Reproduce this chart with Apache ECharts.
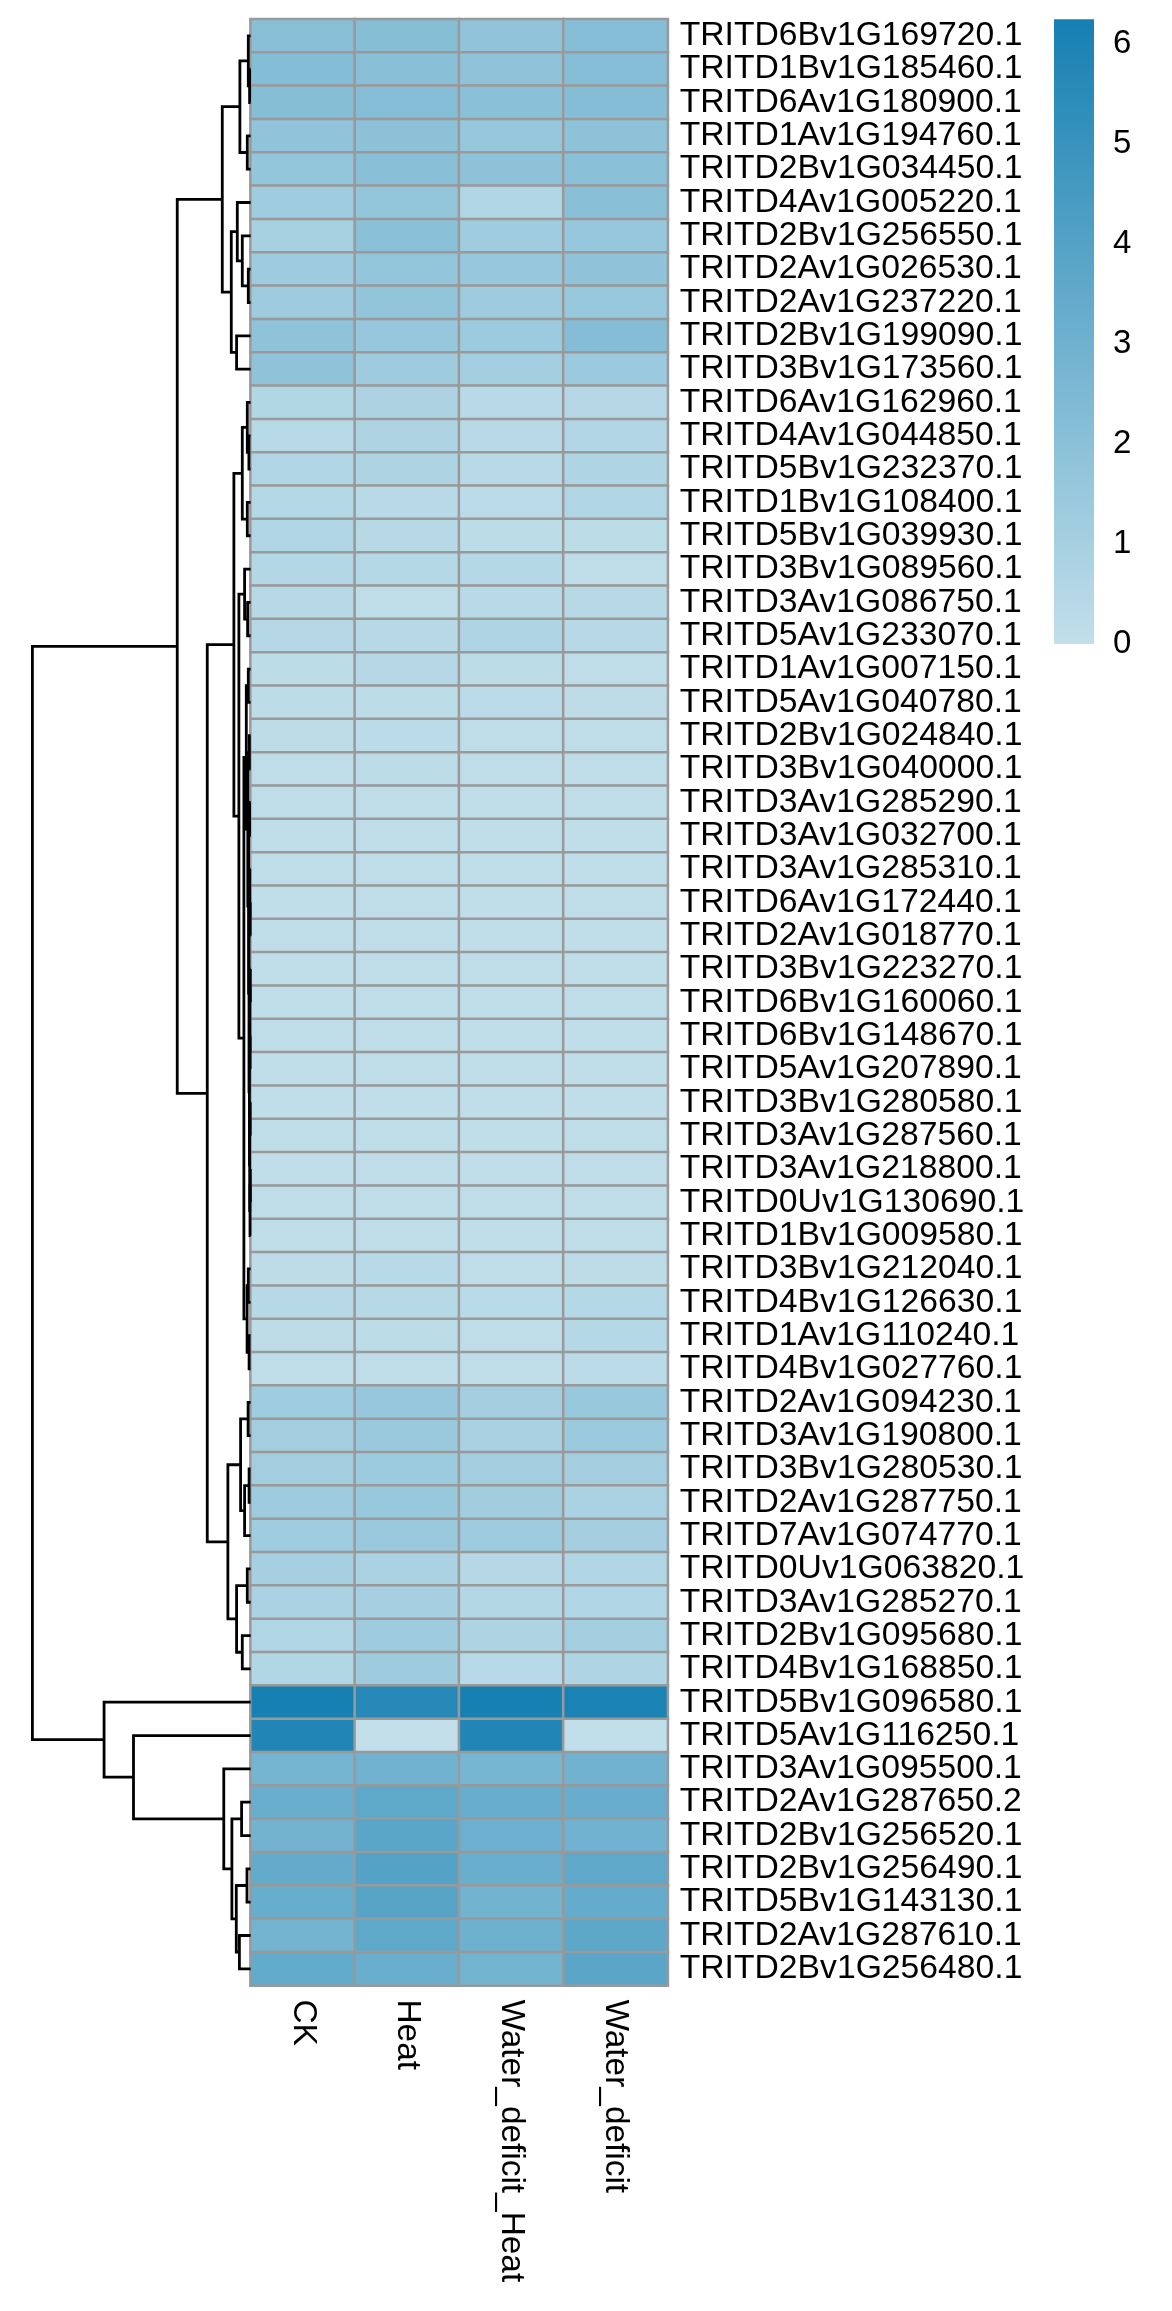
<!DOCTYPE html>
<html><head><meta charset="utf-8">
<script src="https://cdn.jsdelivr.net/npm/echarts@6/dist/echarts.min.js"></script>
<style>html,body{margin:0;padding:0;background:#fff}#c{width:1172px;height:2311px}</style>
</head><body><div id="c"></div>
<script>
// ---- DATA ----
const genes = [
 'TRITD6Bv1G169720.1','TRITD1Bv1G185460.1','TRITD6Av1G180900.1','TRITD1Av1G194760.1','TRITD2Bv1G034450.1',
 'TRITD4Av1G005220.1','TRITD2Bv1G256550.1','TRITD2Av1G026530.1','TRITD2Av1G237220.1','TRITD2Bv1G199090.1',
 'TRITD3Bv1G173560.1','TRITD6Av1G162960.1','TRITD4Av1G044850.1','TRITD5Bv1G232370.1','TRITD1Bv1G108400.1',
 'TRITD5Bv1G039930.1','TRITD3Bv1G089560.1','TRITD3Av1G086750.1','TRITD5Av1G233070.1','TRITD1Av1G007150.1',
 'TRITD5Av1G040780.1','TRITD2Bv1G024840.1','TRITD3Bv1G040000.1','TRITD3Av1G285290.1','TRITD3Av1G032700.1',
 'TRITD3Av1G285310.1','TRITD6Av1G172440.1','TRITD2Av1G018770.1','TRITD3Bv1G223270.1','TRITD6Bv1G160060.1',
 'TRITD6Bv1G148670.1','TRITD5Av1G207890.1','TRITD3Bv1G280580.1','TRITD3Av1G287560.1','TRITD3Av1G218800.1',
 'TRITD0Uv1G130690.1','TRITD1Bv1G009580.1','TRITD3Bv1G212040.1','TRITD4Bv1G126630.1','TRITD1Av1G110240.1',
 'TRITD4Bv1G027760.1','TRITD2Av1G094230.1','TRITD3Av1G190800.1','TRITD3Bv1G280530.1','TRITD2Av1G287750.1',
 'TRITD7Av1G074770.1','TRITD0Uv1G063820.1','TRITD3Av1G285270.1','TRITD2Bv1G095680.1','TRITD4Bv1G168850.1',
 'TRITD5Bv1G096580.1','TRITD5Av1G116250.1','TRITD3Av1G095500.1','TRITD2Av1G287650.2','TRITD2Bv1G256520.1',
 'TRITD2Bv1G256490.1','TRITD5Bv1G143130.1','TRITD2Av1G287610.1','TRITD2Bv1G256480.1'
];
const conditions = ['CK','Heat','Water_deficit_Heat','Water_deficit'];

const ck = [2.10,2.25,2.18,1.78,1.67,1.27,0.98,1.31,1.31,1.85,1.82,0.62,0.36,0.65,0.47,0.65,0.55,0.40,0.44,0.22,
 0.22,0.18,0.15,0.11,0.08,0.10,0.09,0.10,0.09,0.08,0.10,0.09,0.08,0.10,0.09,0.11,0.10,0.18,0.40,0.18,
 0.11,1.24,1.13,1.10,1.31,1.27,1.02,0.87,0.65,0.62,6.25,5.85,2.76,3.20,2.87,3.42,3.30,2.80,3.45];
const heat = [2.18,2.07,2.14,1.96,2.10,1.71,2.03,1.71,1.74,1.56,1.31,0.76,0.73,0.73,0.36,0.40,0.47,0.11,0.40,0.44,
 0.22,0.25,0.22,0.15,0.12,0.12,0.10,0.11,0.12,0.10,0.11,0.10,0.09,0.11,0.10,0.12,0.12,0.36,0.40,0.22,
 0.11,1.56,1.45,1.38,1.53,1.45,0.87,1.02,1.31,1.31,5.67,0.00,2.94,3.63,3.78,4.00,3.89,3.63,3.20];
const wdHeat = [1.78,1.82,2.00,1.56,1.89,0.65,1.24,1.60,1.31,1.38,1.13,0.38,0.36,0.36,0.25,0.22,0.47,0.36,0.69,0.22,
 0.25,0.11,0.11,0.07,0.07,0.08,0.08,0.09,0.10,0.09,0.08,0.09,0.08,0.09,0.08,0.10,0.09,0.15,0.33,0.11,
 0.11,1.05,0.91,1.13,1.20,1.31,0.44,0.55,0.73,0.38,6.22,5.85,2.73,3.30,3.13,3.20,2.90,3.05,2.86];
const wd = [2.14,2.14,2.22,1.93,2.00,2.10,1.60,1.82,1.53,2.22,1.42,0.45,0.58,0.69,0.65,0.22,0.15,0.40,0.40,0.11,
 0.18,0.11,0.15,0.11,0.08,0.09,0.10,0.08,0.09,0.10,0.09,0.08,0.09,0.10,0.11,0.12,0.11,0.18,0.47,0.47,
 0.25,1.53,1.42,1.10,0.87,1.05,0.65,0.65,1.13,0.70,6.07,0.02,2.94,3.27,2.94,3.60,3.38,3.67,3.76];

const legendTicks = [0,1,2,3,4,5,6];
const valueMax = 6.25;

// row dendrogram: [left, right, mergeHeight]; leaves are 1-based row numbers
const clusterA = [[[1,[2,3,0.1],0.23],[4,5,0.33],1.07],
                  [[6,[7,[8,9,0.23],0.83],1.33],[10,11,1.4],1.93], 2.83];
const clusterE = [[22,23,0.12],[[24,25,0.1],[[26,[27,28,0.04],0.08],
                  [[[29,30,0.03],[31,32,0.05],0.07],[[33,34,0.04],[[35,36,0.03],37,0.06],0.09],0.12],0.16],0.2],0.28];
const clusterB1 = [[[12,[13,14,0.17],0.33],[15,16,0.33],0.83],
                   [[17,[18,19,0.3],0.6],[[[20,21,0.23],clusterE,0.43],[[38,39,0.23],[40,41,0.15],0.35],0.67],1.17], 1.67];
const clusterB2 = [[[42,43,0.25],[[44,45,0.15],46,0.6],1.0],[[47,48,0.33],[49,50,0.83],1.4],2.27];
const clusterC = [51,[52,[53,[[54,55,0.9],[[56,57,0.36],[58,59,1.12],1.43],1.87],2.68],11.7],14.64];
const rowTree = [[clusterA,[clusterB1,clusterB2,4.33],7.33], clusterC, 21.8];

// ---- BUILD ----
const colorLow = '#c2dfea', colorHigh = '#1680b2';
const cols = [ck, heat, wdHeat, wd];
const heatData = [];
cols.forEach((arr, ci) => arr.forEach((v, ri) => heatData.push([ci, ri, v])));

const segs = [];
function walk(n) {
  if (typeof n === 'number') return {y: n - 0.5, h: 0};
  const L = walk(n[0]), R = walk(n[1]);
  segs.push([L.h, L.y, n[2], R.y, R.h]);
  return {y: (L.y + R.y) / 2, h: n[2]};
}
walk(rowTree);

const FONT = '"Liberation Sans", Arial, Helvetica, sans-serif';
const gridTop = 19.2, hmH = 1966.3;
const chart = echarts.init(document.getElementById('c'), null, {renderer: 'canvas'});
chart.setOption({
  animation: false,
  backgroundColor: '#fff',
  textStyle: {fontFamily: FONT},
  grid: [
    {left: 250.6, top: gridTop, width: 417.1, height: hmH},
    {left: 32.4, top: gridTop, width: 218.2, height: hmH},
    {left: 1054, top: gridTop, width: 40, height: 624.8}
  ],
  xAxis: [
    {gridIndex: 0, type: 'category', data: conditions, position: 'bottom',
     axisLine: {show: false}, axisTick: {show: false}, splitLine: {show: false},
     axisLabel: {rotate: -90, fontSize: 33.4, margin: 14, interval: 0, color: '#000', fontFamily: FONT}},
    {gridIndex: 1, type: 'value', min: 0, max: rowTree[2], inverse: true, show: false},
    {gridIndex: 2, type: 'category', data: ['scale'], show: false}
  ],
  yAxis: [
    {gridIndex: 0, type: 'category', data: genes, inverse: true, position: 'right',
     axisLine: {show: false}, axisTick: {show: false}, splitLine: {show: false},
     axisLabel: {fontSize: 33.7, margin: 12, interval: 0, color: '#000', fontFamily: FONT}},
    {gridIndex: 1, type: 'value', min: 0, max: genes.length, inverse: true, show: false},
    {gridIndex: 2, type: 'value', min: 0, max: valueMax, interval: 1, position: 'right',
     axisLine: {show: false}, axisTick: {show: false}, splitLine: {show: false},
     axisLabel: {fontSize: 33, margin: 19, color: '#000', fontFamily: FONT, showMaxLabel: false,
       formatter: v => legendTicks.indexOf(v) >= 0 ? String(v) : ''}}
  ],
  visualMap: {show: false, type: 'continuous', min: 0, max: valueMax, dimension: 2, seriesIndex: 0,
    inRange: {color: [colorLow, colorHigh]}},
  series: [
    {type: 'heatmap', xAxisIndex: 0, yAxisIndex: 0, data: heatData,
     itemStyle: {borderColor: '#999999', borderWidth: 2.5}, emphasis: {disabled: true}},
    {type: 'custom', xAxisIndex: 1, yAxisIndex: 1, data: segs, clip: false,
     encode: {x: [0, 2, 4], y: [1, 3]},
     renderItem: (params, api) => {
       const p1 = api.coord([api.value(0), api.value(1)]);
       const p2 = api.coord([api.value(2), api.value(1)]);
       const p3 = api.coord([api.value(2), api.value(3)]);
       const p4 = api.coord([api.value(4), api.value(3)]);
       return {type: 'polyline', shape: {points: [p1, p2, p3, p4]},
               style: {stroke: '#000', lineWidth: 2.8, fill: null, lineJoin: 'miter', lineCap: 'butt'}};
     }},
    {type: 'bar', xAxisIndex: 2, yAxisIndex: 2, data: [valueMax], barWidth: 40, silent: true,
     itemStyle: {color: new echarts.graphic.LinearGradient(0, 1, 0, 0,
       [{offset: 0, color: colorLow}, {offset: 1, color: colorHigh}])}}
  ]
});
</script></body></html>
